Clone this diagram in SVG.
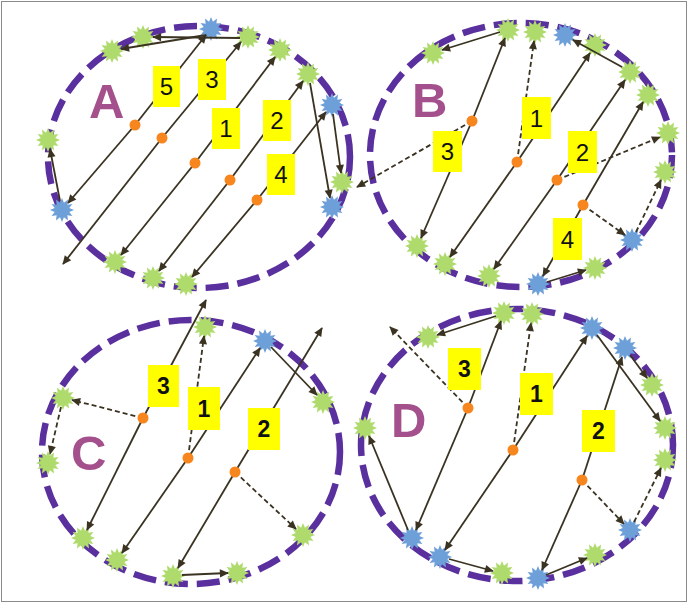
<svg xmlns="http://www.w3.org/2000/svg" xmlns:xlink="http://www.w3.org/1999/xlink" width="691" height="604" viewBox="0 0 691 604">
<style>
.ring{fill:none;stroke:#5a2f9e;stroke-width:6.5;stroke-dasharray:23 9}
.g{fill:#aedb6c}
.b{fill:#6d9fd8}
.ln{stroke:#3b3322;stroke-width:1.8;fill:none;marker-end:url(#ah)}
.ds{stroke-dasharray:5 3}
.dot{fill:#f7861e}
.box{fill:#ffff00}
.num{font-family:"Liberation Sans",Arial,sans-serif;font-size:24px;fill:#111;text-anchor:middle}
.bold{font-weight:bold;font-size:23px}
.let{font-family:"Liberation Sans",Arial,sans-serif;font-size:49px;font-weight:bold;fill:#a3508c}
</style>
<defs>
<marker id="ah" viewBox="0 0 10 10" refX="9" refY="5" markerWidth="11" markerHeight="9" markerUnits="userSpaceOnUse" orient="auto"><path d="M0,0.5 L10,5 L0,9.5 z" fill="#3b3322"/></marker>
<polygon id="st" points="12,0 7.3,1.96 10.4,6 5.37,5.37 6,10.4 1.96,7.3 0,12 -1.96,7.3 -6,10.4 -5.37,5.37 -10.4,6 -7.3,1.96 -12,0 -7.3,-1.96 -10.4,-6 -5.37,-5.37 -6,-10.4 -1.96,-7.3 0,-12 1.96,-7.3 6,-10.4 5.37,-5.37 10.4,-6 7.3,-1.96"/>
</defs>
<rect x="1.5" y="1.5" width="685" height="600" fill="#fff" stroke="#8a8a8a" stroke-width="1"/>

<g id="circleA">
<ellipse class="ring" cx="199" cy="157" rx="151" ry="131"/>
<text class="let" x="89" y="118">A</text>
<use href="#st" class="b" x="211" y="29"/>
<use href="#st" class="g" x="143" y="37"/>
<use href="#st" class="g" x="112" y="51"/>
<use href="#st" class="g" x="248" y="37"/>
<use href="#st" class="g" x="280" y="50"/>
<use href="#st" class="g" x="308" y="74"/>
<use href="#st" class="b" x="332" y="105"/>
<use href="#st" class="g" x="342" y="182"/>
<use href="#st" class="b" x="332" y="207"/>
<use href="#st" class="g" x="48" y="140"/>
<use href="#st" class="b" x="62" y="210"/>
<use href="#st" class="g" x="115" y="262"/>
<use href="#st" class="g" x="153" y="278"/>
<use href="#st" class="g" x="186" y="284"/>
</g>

<g id="circleB">
<ellipse class="ring" cx="521" cy="155" rx="151" ry="132"/>
<text class="let" x="412" y="117">B</text>
<use href="#st" class="g" x="508" y="30"/>
<use href="#st" class="g" x="433" y="53"/>
<use href="#st" class="g" x="535" y="32"/>
<use href="#st" class="b" x="565" y="35"/>
<use href="#st" class="g" x="595" y="45"/>
<use href="#st" class="g" x="630" y="72"/>
<use href="#st" class="g" x="648" y="95"/>
<use href="#st" class="g" x="668" y="133"/>
<use href="#st" class="g" x="665" y="172"/>
<use href="#st" class="b" x="632" y="240"/>
<use href="#st" class="g" x="595" y="268"/>
<use href="#st" class="b" x="538" y="284"/>
<use href="#st" class="g" x="489" y="276"/>
<use href="#st" class="g" x="445" y="264"/>
<use href="#st" class="g" x="417" y="246"/>
</g>

<g id="circleC">
<ellipse class="ring" cx="191" cy="452" rx="149" ry="132"/>
<text class="let" x="71" y="470">C</text>
<use href="#st" class="g" x="205" y="327"/>
<use href="#st" class="b" x="265" y="341"/>
<use href="#st" class="g" x="323" y="402"/>
<use href="#st" class="g" x="303" y="535"/>
<use href="#st" class="g" x="237" y="573"/>
<use href="#st" class="g" x="173" y="576"/>
<use href="#st" class="g" x="117" y="560"/>
<use href="#st" class="g" x="83" y="538"/>
<use href="#st" class="g" x="48" y="463"/>
<use href="#st" class="g" x="63" y="398"/>
</g>

<g id="circleD">
<ellipse class="ring" cx="517" cy="445" rx="156" ry="136"/>
<text class="let" x="391" y="437">D</text>
<use href="#st" class="g" x="504" y="313"/>
<use href="#st" class="g" x="428" y="337"/>
<use href="#st" class="g" x="532" y="314"/>
<use href="#st" class="b" x="592" y="328"/>
<use href="#st" class="b" x="625" y="348"/>
<use href="#st" class="g" x="652" y="385"/>
<use href="#st" class="g" x="665" y="428"/>
<use href="#st" class="g" x="665" y="460"/>
<use href="#st" class="b" x="630" y="530"/>
<use href="#st" class="g" x="595" y="555"/>
<use href="#st" class="b" x="538" y="578"/>
<use href="#st" class="g" x="502" y="573"/>
<use href="#st" class="b" x="440" y="557"/>
<use href="#st" class="b" x="412" y="538"/>
<use href="#st" class="g" x="365" y="428"/>
</g>

<g id="connectors">
<!-- A -->
<line class="ln" x1="135" y1="125" x2="206" y2="35"/>
<line class="ln" x1="135" y1="125" x2="68" y2="203"/>
<line class="ln" x1="162" y1="138" x2="241" y2="42"/>
<line class="ln" x1="162" y1="138" x2="63" y2="264"/>
<line class="ln" x1="195" y1="163" x2="275" y2="57"/>
<line class="ln" x1="195" y1="163" x2="121" y2="255"/>
<line class="ln" x1="230" y1="180" x2="303" y2="81"/>
<line class="ln" x1="230" y1="180" x2="159" y2="271"/>
<line class="ln" x1="257" y1="200" x2="326" y2="112"/>
<line class="ln" x1="257" y1="200" x2="192" y2="277"/>
<line class="ln" x1="240" y1="38" x2="153" y2="37"/>
<line class="ln" x1="206" y1="35" x2="121" y2="49"/>
<line class="ln" x1="310" y1="83" x2="330" y2="198"/>
<line class="ln" x1="333" y1="114" x2="341" y2="173"/>
<line class="ln" x1="60" y1="201" x2="50" y2="149"/>
<!-- B -->
<line class="ln" x1="472" y1="121" x2="505" y2="38"/>
<line class="ln" x1="472" y1="121" x2="421" y2="238"/>
<line class="ln ds" x1="472" y1="121" x2="357" y2="187"/>
<line class="ln" x1="500" y1="32" x2="442" y2="50"/>
<line class="ln ds" x1="517" y1="162" x2="534" y2="41"/>
<line class="ln" x1="517" y1="162" x2="590" y2="53"/>
<line class="ln" x1="517" y1="162" x2="450" y2="257"/>
<line class="ln" x1="557" y1="180" x2="625" y2="80"/>
<line class="ln" x1="557" y1="180" x2="494" y2="269"/>
<line class="ln ds" x1="557" y1="180" x2="660" y2="137"/>
<line class="ln" x1="622" y1="67" x2="573" y2="40"/>
<line class="ln" x1="583" y1="205" x2="643" y2="102"/>
<line class="ln" x1="583" y1="205" x2="543" y2="276"/>
<line class="ln ds" x1="583" y1="205" x2="625" y2="235"/>
<line class="ln ds" x1="636" y1="232" x2="661" y2="180"/>
<line class="ln" x1="547" y1="282" x2="586" y2="270"/>
<!-- C -->
<line class="ln" x1="143" y1="418" x2="206" y2="300"/>
<line class="ln" x1="143" y1="418" x2="87" y2="530"/>
<line class="ln ds" x1="143" y1="418" x2="72" y2="400"/>
<line class="ln ds" x1="61" y1="407" x2="50" y2="454"/>
<line class="ln ds" x1="188" y1="458" x2="204" y2="336"/>
<line class="ln" x1="188" y1="458" x2="260" y2="348"/>
<line class="ln" x1="188" y1="458" x2="122" y2="553"/>
<line class="ln" x1="271" y1="347" x2="317" y2="395"/>
<line class="ln" x1="235" y1="472" x2="322" y2="328"/>
<line class="ln" x1="235" y1="472" x2="178" y2="568"/>
<line class="ln" x1="182" y1="575" x2="228" y2="573"/>
<line class="ln ds" x1="235" y1="472" x2="296" y2="529"/>
<!-- D -->
<line class="ln" x1="468" y1="408" x2="501" y2="321"/>
<line class="ln" x1="468" y1="408" x2="416" y2="530"/>
<line class="ln ds" x1="468" y1="408" x2="390" y2="327"/>
<line class="ln" x1="496" y1="316" x2="437" y2="335"/>
<line class="ln" x1="408" y1="530" x2="369" y2="436"/>
<line class="ln ds" x1="513" y1="450" x2="531" y2="323"/>
<line class="ln" x1="513" y1="450" x2="587" y2="336"/>
<line class="ln" x1="513" y1="450" x2="445" y2="550"/>
<line class="ln" x1="449" y1="559" x2="493" y2="571"/>
<line class="ln" x1="597" y1="335" x2="660" y2="421"/>
<line class="ln" x1="582" y1="480" x2="622" y2="357"/>
<line class="ln" x1="630" y1="355" x2="647" y2="378"/>
<line class="ln" x1="582" y1="480" x2="542" y2="570"/>
<line class="ln ds" x1="582" y1="480" x2="624" y2="524"/>
<line class="ln ds" x1="634" y1="522" x2="661" y2="468"/>
<line class="ln" x1="546" y1="575" x2="587" y2="558"/>
</g>

<g id="dots">
<circle class="dot" cx="135" cy="125" r="5.5"/>
<circle class="dot" cx="162" cy="138" r="5.5"/>
<circle class="dot" cx="195" cy="163" r="5.5"/>
<circle class="dot" cx="230" cy="180" r="5.5"/>
<circle class="dot" cx="257" cy="200" r="5.5"/>
<circle class="dot" cx="472" cy="121" r="5.5"/>
<circle class="dot" cx="517" cy="162" r="5.5"/>
<circle class="dot" cx="557" cy="180" r="5.5"/>
<circle class="dot" cx="583" cy="205" r="5.5"/>
<circle class="dot" cx="143" cy="418" r="5.5"/>
<circle class="dot" cx="188" cy="458" r="5.5"/>
<circle class="dot" cx="235" cy="472" r="5.5"/>
<circle class="dot" cx="468" cy="408" r="5.5"/>
<circle class="dot" cx="513" cy="450" r="5.5"/>
<circle class="dot" cx="582" cy="480" r="5.5"/>
</g>

<g id="labelsA">
<rect class="box" x="153" y="66" width="27" height="41"/><text class="num" x="166.5" y="95">5</text>
<rect class="box" x="198" y="59" width="28" height="41"/><text class="num" x="212" y="88">3</text>
<rect class="box" x="212" y="108" width="28" height="41"/><text class="num" x="226" y="137">1</text>
<rect class="box" x="263" y="100" width="28" height="41"/><text class="num" x="277" y="129">2</text>
<rect class="box" x="267" y="154" width="28" height="41"/><text class="num" x="281" y="183">4</text>
</g>
<g id="labelsB">
<rect class="box" x="433" y="131" width="29" height="41"/><text class="num" x="447.5" y="160">3</text>
<rect class="box" x="522" y="97" width="29" height="42"/><text class="num" x="536.5" y="126.5">1</text>
<rect class="box" x="568" y="131" width="29" height="42"/><text class="num" x="582.5" y="160.5">2</text>
<rect class="box" x="553" y="218" width="29" height="42"/><text class="num" x="567.5" y="247.5">4</text>
</g>
<g id="labelsC">
<rect class="box" x="148" y="365" width="31" height="42"/><text class="num bold" x="163.5" y="394">3</text>
<rect class="box" x="188" y="387" width="32" height="43"/><text class="num bold" x="204" y="416.5">1</text>
<rect class="box" x="248" y="408" width="32" height="42"/><text class="num bold" x="264" y="437">2</text>
</g>
<g id="labelsD">
<rect class="box" x="448" y="348" width="33" height="42"/><text class="num bold" x="464.5" y="377">3</text>
<rect class="box" x="520" y="373" width="33" height="42"/><text class="num bold" x="536.5" y="402">1</text>
<rect class="box" x="582" y="410" width="33" height="42"/><text class="num bold" x="598.5" y="439">2</text>
</g>
</svg>
